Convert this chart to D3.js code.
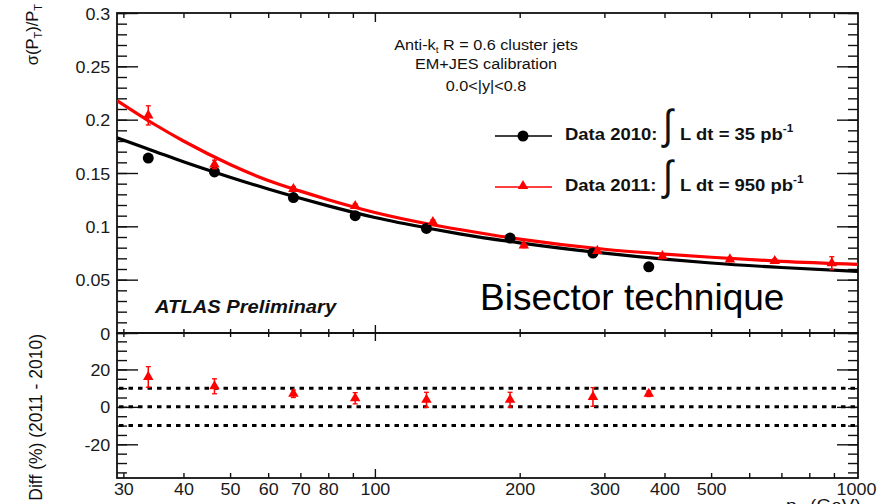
<!DOCTYPE html>
<html>
<head>
<meta charset="utf-8">
<script src="https://cdn.jsdelivr.net/npm/d3@7"></script>
<style>
body { margin: 0; background: #fff; }
svg { display: block; }
text { font-family: "Liberation Sans", Arial, sans-serif; }
</style>
</head>
<body>
<div id="chart"></div>
<script>
// values
var pt2010 = [33.8, 46.4, 67.7, 91, 128, 191, 284, 371];
var res2010 = [0.164, 0.151, 0.127, 0.110, 0.098, 0.089, 0.075, 0.062];

var pt2011 = [33.8, 46.4, 67.7, 91, 132, 204, 290, 396, 547, 678, 891];
var res2011 = [0.204, 0.158, 0.135, 0.119, 0.104, 0.082, 0.077, 0.072, 0.069, 0.0675, 0.0655];
var err2011 = [0.009, 0.004, 0.002, 0.002, 0.002, 0.002, 0.002, 0.002, 0.002, 0.002, 0.006];

// fitted curves, sampled from the plot
var fitPt = [29.1, 35, 40, 50, 60, 70, 80, 100, 130, 150, 200, 300, 400, 500, 700, 1010];
var fit2010 = [0.183, 0.170, 0.1606, 0.1461, 0.135, 0.1263, 0.1192, 0.1083, 0.098, 0.093, 0.0845, 0.0748, 0.0692, 0.0656, 0.0614, 0.0578];
var fit2011 = [0.218, 0.195, 0.180, 0.158, 0.143, 0.133, 0.125, 0.113, 0.102, 0.097, 0.088, 0.0785, 0.074, 0.071, 0.0672, 0.0644];

// lower panel: relative difference (%)
var diffPt = [33.8, 46.4, 67.7, 91, 128, 191, 284, 371];
var diffVal = [16, 11, 7, 4.6, 3.8, 3.8, 5.3, 7];
var diffErr = [5.5, 4, 2, 3, 4, 4, 5, 1.5];
var refLines = [10, 0, -10];

var xMinor = [30, 40, 50, 60, 70, 80, 90, 200, 300, 400, 500, 600, 700, 800, 900];
var xMajor = [100];
var xLabels = [30, 40, 50, 60, 70, 80, 100, 200, 300, 400, 500, 1000];
var yTopMajor = [0, 0.05, 0.1, 0.15, 0.2, 0.25, 0.3];
var yBotMajor = [-20, 0, 20];

var SX = 1.12; // the original picture is a bit stretched sideways

var svg = d3.select("#chart").append("svg")
  .attr("width", 878)
  .attr("height", 504);

var x = d3.scaleLog().domain([29.1, 1010]).range([117, 858]);
var yTop = d3.scaleLinear().domain([0, 0.3]).range([333, 13]);
var yBot = d3.scaleLinear().domain([-38, 40]).range([478, 332]);

var yTopMinor = d3.range(0, 0.3001, 0.01).map(function (v) { return +v.toFixed(2); });
var yBotMinor = d3.range(-35, 40, 5);

function tickAxis(gen, scale, vals, size, tx, ty) {
  var a = gen(scale).tickValues(vals).tickSize(size).tickFormat("");
  var g = svg.append("g").attr("transform", "translate(" + tx + "," + ty + ")").call(a);
  g.select(".domain").remove();
  g.selectAll("line").attr("stroke", "#111").attr("stroke-width", 1.4);
  return g;
}

function labelAxis(gen, scale, vals, pad, fmt, tx, ty, fs) {
  var a = gen(scale).tickValues(vals).tickSize(0).tickPadding(pad).tickFormat(fmt);
  var g = svg.append("g").attr("transform", "translate(" + tx + "," + ty + ")").call(a);
  g.select(".domain").remove();
  g.selectAll("line").remove();
  g.attr("font-family", null);
  g.selectAll("text")
    .attr("font-size", fs)
    .attr("fill", "#1a1a1a")
    .attr("transform", "scale(" + SX + ",1)");
  return g;
}

function label(x0, y0, str, fs, opts) {
  opts = opts || {};
  var t = svg.append("text")
    .attr("transform", "translate(" + x0 + "," + y0 + ")" + (opts.rot ? " rotate(-90)" : "") + " scale(" + (opts.sx || SX) + ",1)")
    .attr("font-size", fs)
    .attr("text-anchor", opts.anchor || "start")
    .attr("fill", opts.fill || "#111");
  if (opts.weight) t.attr("font-weight", opts.weight);
  if (opts.style) t.attr("font-style", opts.style);
  if (str) t.text(str);
  return t;
}

// ---------- ticks ----------
// top panel y
tickAxis(d3.axisLeft, yTop, yTopMinor, -10, 117, 0);
tickAxis(d3.axisLeft, yTop, yTopMajor, -21, 117, 0);
tickAxis(d3.axisRight, yTop, yTopMinor, -10, 858, 0);
tickAxis(d3.axisRight, yTop, yTopMajor, -21, 858, 0);
// bottom panel y
tickAxis(d3.axisLeft, yBot, yBotMinor, -10, 117, 0);
tickAxis(d3.axisLeft, yBot, yBotMajor, -21, 117, 0);
tickAxis(d3.axisRight, yBot, yBotMinor, -10, 858, 0);
tickAxis(d3.axisRight, yBot, yBotMajor, -21, 858, 0);
// x ticks on every horizontal edge
tickAxis(d3.axisTop, x, xMinor, -5, 0, 13);
tickAxis(d3.axisTop, x, xMajor, -9, 0, 13);
tickAxis(d3.axisBottom, x, xMinor, -4, 0, 333);
tickAxis(d3.axisBottom, x, xMajor, -8, 0, 333);
tickAxis(d3.axisTop, x, xMinor, -4, 0, 333);
tickAxis(d3.axisTop, x, xMajor, -8, 0, 333);
tickAxis(d3.axisBottom, x, xMinor, -5, 0, 478);
tickAxis(d3.axisBottom, x, xMajor, -9, 0, 478);

// frames
svg.append("rect").attr("x", 117).attr("y", 13).attr("width", 741).attr("height", 320)
  .attr("fill", "none").attr("stroke", "#111").attr("stroke-width", 1.8);
svg.append("rect").attr("x", 117).attr("y", 333).attr("width", 741).attr("height", 145)
  .attr("fill", "none").attr("stroke", "#111").attr("stroke-width", 1.8);

// tick labels
labelAxis(d3.axisLeft, yTop, yTopMajor, 6, function (d) { return String(+d.toFixed(2)); }, 117, 1, 16);
labelAxis(d3.axisLeft, yBot, yBotMajor, 6, function (d) { return String(d); }, 117, 1, 16);
labelAxis(d3.axisBottom, x, xLabels, 6, function (d) { return String(d); }, 0, 478, 16);

// axis titles
var yt = label(38, 4, null, 16.5, { rot: true, anchor: "end", sx: 1 });
yt.append("tspan").text("σ(P");
yt.append("tspan").attr("font-size", 11).attr("dy", 4).text("T");
yt.append("tspan").attr("dy", -4).text(")/P");
yt.append("tspan").attr("font-size", 11).attr("dy", 4).text("T");

label(42, 334, "Diff (%) (2011 - 2010)", 17.5, { rot: true, anchor: "end", sx: 1 });

var xt = label(786, 511, null, 17);
xt.append("tspan").text("p");
xt.append("tspan").attr("font-size", 12).attr("dy", 4).text("T");
xt.append("tspan").attr("dy", -4).text(" (GeV)");

// ---------- top panel ----------
svg.append("clipPath").attr("id", "clipTop")
  .append("rect").attr("x", 117).attr("y", 13).attr("width", 741).attr("height", 320);

var fitLine = d3.line()
  .x(function (d) { return x(d[0]); })
  .y(function (d) { return yTop(d[1]); })
  .curve(d3.curveMonotoneX);

var plotTop = svg.append("g").attr("clip-path", "url(#clipTop)");

plotTop.append("path")
  .datum(d3.zip(fitPt, fit2010))
  .attr("d", fitLine)
  .attr("fill", "none").attr("stroke", "#000").attr("stroke-width", 3.2);

plotTop.append("path")
  .datum(d3.zip(fitPt, fit2011))
  .attr("d", fitLine)
  .attr("fill", "none").attr("stroke", "#ff0000").attr("stroke-width", 3.2);

plotTop.selectAll("circle.d10")
  .data(d3.zip(pt2010, res2010))
  .enter().append("circle")
  .attr("cx", function (d) { return x(d[0]); })
  .attr("cy", function (d) { return yTop(d[1]); })
  .attr("r", 5.5)
  .attr("fill", "#000");

var tri = d3.symbol().type(d3.symbolTriangle).size(48);

var d11 = d3.zip(pt2011, res2011, err2011);
var eb = plotTop.selectAll("g.eb").data(d11).enter().append("g");
eb.append("line")
  .attr("x1", function (d) { return x(d[0]); })
  .attr("x2", function (d) { return x(d[0]); })
  .attr("y1", function (d) { return yTop(d[1] + d[2]); })
  .attr("y2", function (d) { return yTop(d[1] - d[2]); })
  .attr("stroke", "#ff0000").attr("stroke-width", 1.5);
[1, -1].forEach(function (s) {
  eb.append("line")
    .attr("x1", function (d) { return x(d[0]) - 2.5; })
    .attr("x2", function (d) { return x(d[0]) + 2.5; })
    .attr("y1", function (d) { return yTop(d[1] + s * d[2]); })
    .attr("y2", function (d) { return yTop(d[1] + s * d[2]); })
    .attr("stroke", "#ff0000").attr("stroke-width", 1.3);
});
eb.append("path")
  .attr("d", tri)
  .attr("transform", function (d) { return "translate(" + x(d[0]) + "," + yTop(d[1]) + ")"; })
  .attr("fill", "#ff0000");

// annotation
var a1 = label(486, 50, null, 14.5, { anchor: "middle" });
a1.append("tspan").text("Anti-k");
a1.append("tspan").attr("font-size", 9).attr("dy", 3).text("t");
a1.append("tspan").attr("dy", -3).text(" R = 0.6 cluster jets");
label(486, 69, "EM+JES calibration", 14.5, { anchor: "middle" });
label(486, 91, "0.0<|y|<0.8", 14.5, { anchor: "middle" });

// legend
svg.append("line").attr("x1", 495).attr("x2", 552).attr("y1", 136).attr("y2", 136)
  .attr("stroke", "#000").attr("stroke-width", 1.4);
svg.append("circle").attr("cx", 523).attr("cy", 136).attr("r", 5.5).attr("fill", "#000");
svg.append("line").attr("x1", 495).attr("x2", 552).attr("y1", 187).attr("y2", 187)
  .attr("stroke", "#ff0000").attr("stroke-width", 1.4);
svg.append("path").attr("d", tri).attr("transform", "translate(523,186)").attr("fill", "#ff0000");

var legRows = [
  { y: 140, year: "Data 2010:", lumi: "L dt = 35 pb" },
  { y: 191, year: "Data 2011:", lumi: "L dt = 950 pb" }
];
legRows.forEach(function (r) {
  label(565, r.y, r.year, 16.5, { weight: "bold" });
  label(663, r.y - 1, "∫", 42, { sx: 0.85 });
  var t = label(680, r.y, null, 16.5, { weight: "bold" });
  t.append("tspan").text(r.lumi);
  t.append("tspan").attr("font-size", 10.5).attr("dy", -8).text("-1");
});

label(155, 313, "ATLAS Preliminary", 18, { weight: "bold", style: "italic" });
label(480, 310, "Bisector technique", 37, { sx: 1, fill: "#000" });

// ---------- bottom panel ----------
svg.selectAll("line.ref")
  .data(refLines)
  .enter().append("line")
  .attr("x1", 119).attr("x2", 856)
  .attr("y1", function (d) { return yBot(d); })
  .attr("y2", function (d) { return yBot(d); })
  .attr("stroke", "#000").attr("stroke-width", 3)
  .attr("stroke-dasharray", "4.5,5");

var dd = d3.zip(diffPt, diffVal, diffErr);
var eb2 = svg.selectAll("g.eb2").data(dd).enter().append("g");
eb2.append("line")
  .attr("x1", function (d) { return x(d[0]); })
  .attr("x2", function (d) { return x(d[0]); })
  .attr("y1", function (d) { return yBot(d[1] + d[2]); })
  .attr("y2", function (d) { return yBot(d[1] - d[2]); })
  .attr("stroke", "#ff0000").attr("stroke-width", 1.5);
[1, -1].forEach(function (s) {
  eb2.append("line")
    .attr("x1", function (d) { return x(d[0]) - 2.5; })
    .attr("x2", function (d) { return x(d[0]) + 2.5; })
    .attr("y1", function (d) { return yBot(d[1] + s * d[2]); })
    .attr("y2", function (d) { return yBot(d[1] + s * d[2]); })
    .attr("stroke", "#ff0000").attr("stroke-width", 1.3);
});
eb2.append("path")
  .attr("d", tri)
  .attr("transform", function (d) { return "translate(" + x(d[0]) + "," + yBot(d[1]) + ")"; })
  .attr("fill", "#ff0000");
</script>
</body>
</html>
